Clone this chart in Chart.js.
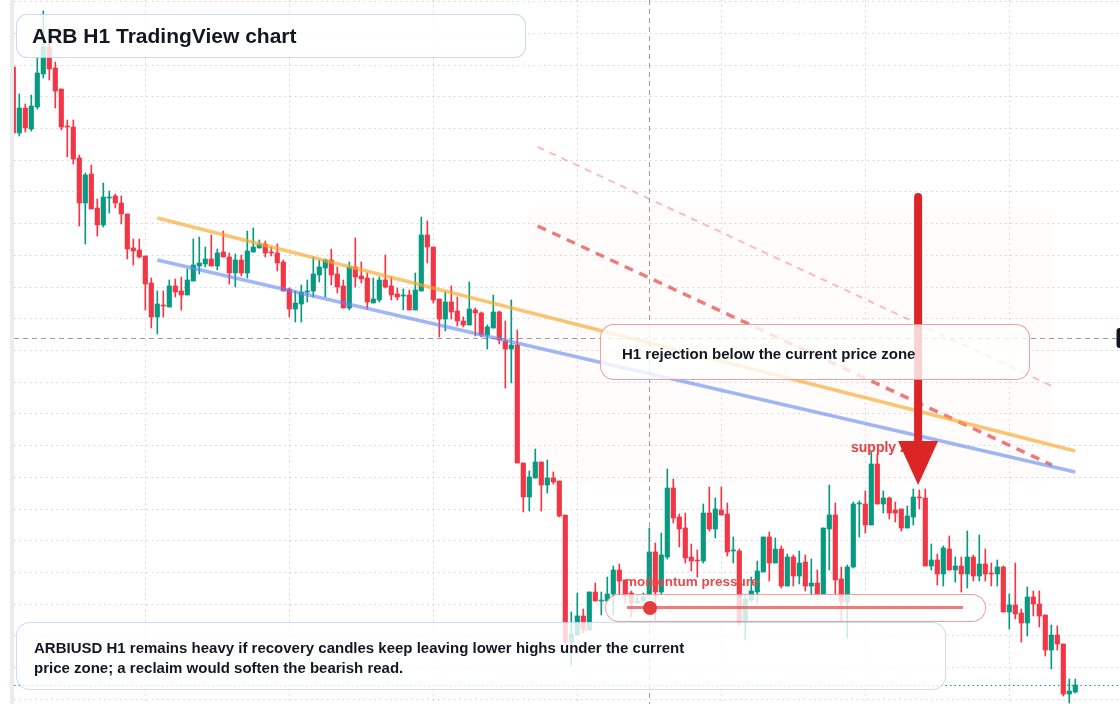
<!DOCTYPE html>
<html>
<head>
<meta charset="utf-8">
<script src="https://cdn.jsdelivr.net/npm/chart.js@4.4.1/dist/chart.umd.min.js"></script>
<style>
html,body{margin:0;padding:0;background:#ffffff;}
#wrap{position:relative;width:1120px;height:704px;overflow:hidden;font-family:"Liberation Sans",Arial,Helvetica,sans-serif;color:#131722;}
#c{position:absolute;left:0;top:0;z-index:1;}
.strip{position:absolute;left:10px;top:0;width:4px;height:704px;background:#ececee;z-index:0;}
.under{position:absolute;z-index:0;white-space:nowrap;font-weight:bold;}
.box{position:absolute;box-sizing:border-box;background:rgba(255,255,255,0.8);z-index:2;white-space:nowrap;font-weight:bold;}
.lbl{position:absolute;z-index:3;white-space:nowrap;font-weight:bold;}
</style>
</head>
<body>
<div id="wrap">
  <div class="strip"></div>
  <div class="under" style="left:851px;top:439px;font-size:14px;line-height:16px;color:#e23b40;">supply zone</div>
  <canvas id="c" width="1120" height="704"></canvas>
  <div class="box" style="left:16px;top:14px;width:510px;height:44px;border:1.5px solid rgba(170,198,240,0.65);border-radius:11px;padding-left:15px;font-size:21px;line-height:42px;">ARB H1 TradingView chart</div>
  <div class="box" style="left:600px;top:324px;width:430px;height:56px;border:1.5px solid rgba(232,84,84,0.55);border-radius:14px;padding-left:21px;font-size:15px;line-height:57px;">H1 rejection below the current price zone</div>
  <div class="box" style="left:605px;top:594px;width:381px;height:28px;border:1.5px solid rgba(232,84,84,0.55);border-radius:14px;">
    <div style="position:absolute;left:21px;top:11px;width:336px;height:3px;background:rgba(232,80,80,0.75);"></div>
    <div style="position:absolute;left:37px;top:5.5px;width:14px;height:14px;border-radius:7px;background:#e43c3c;"></div>
  </div>
  <div class="lbl" style="left:625px;top:574px;font-size:13.5px;line-height:16px;color:#e44a4f;">momentum pressure</div>
  <div class="box" style="left:16px;top:622px;width:930px;height:68px;border:1.5px solid rgba(170,198,240,0.6);border-radius:14px;padding:14.5px 0 0 17px;font-size:15px;line-height:20px;">ARBIUSD H1 remains heavy if recovery candles keep leaving lower highs under the current<br>price zone; a reclaim would soften the bearish read.</div>
</div>
<script>
// ---- candle data (ARBIUSD, H1) ----
const opens = [
0.733,0.667,0.692,0.671,0.693,0.726,0.753,0.732,0.711,0.674,0.673,0.642,0.597,0.626,0.592,0.575,0.602,0.604,0.597,0.586,
0.552,0.550,0.544,0.517,0.483,0.495,0.493,0.514,0.509,0.505,0.519,0.534,0.536,0.541,0.534,0.548,0.543,0.527,0.540,0.527,
0.548,0.552,0.556,0.548,0.547,0.538,0.511,0.491,0.496,0.508,0.509,0.525,0.532,0.540,0.526,0.514,0.492,0.533,0.524,0.522,
0.497,0.500,0.520,0.514,0.506,0.504,0.505,0.490,0.509,0.565,0.553,0.501,0.481,0.498,0.489,0.479,0.475,0.490,0.487,0.465,
0.472,0.488,0.459,0.451,0.455,0.337,0.303,0.322,0.338,0.315,0.322,0.319,0.285,0.158,0.165,0.184,0.170,0.208,0.199,0.199,
0.206,0.230,0.220,0.207,0.197,0.199,0.205,0.248,0.208,0.243,0.312,0.283,0.272,0.243,0.240,0.239,0.287,0.271,0.290,0.286,
0.249,0.249,0.178,0.200,0.208,0.228,0.263,0.237,0.251,0.214,0.243,0.224,0.238,0.214,0.217,0.206,0.271,0.285,0.221,0.198,
0.233,0.296,0.296,0.275,0.336,0.296,0.302,0.290,0.291,0.272,0.283,0.303,0.302,0.234,0.240,0.226,0.251,0.230,0.234,0.226,
0.243,0.224,0.236,0.227,0.226,0.233,0.188,0.195,0.187,0.177,0.203,0.196,0.185,0.150,0.165,0.156,0.106,0.108];
const highs = [
0.736,0.706,0.696,0.705,0.742,0.789,0.757,0.738,0.711,0.680,0.680,0.645,0.627,0.635,0.601,0.617,0.609,0.606,0.604,0.586,
0.561,0.561,0.544,0.522,0.509,0.509,0.520,0.521,0.523,0.531,0.561,0.563,0.553,0.565,0.551,0.569,0.547,0.546,0.545,0.569,
0.572,0.560,0.559,0.553,0.556,0.540,0.512,0.509,0.515,0.520,0.543,0.540,0.541,0.551,0.533,0.520,0.538,0.562,0.538,0.527,
0.522,0.523,0.545,0.523,0.512,0.511,0.510,0.527,0.583,0.579,0.553,0.501,0.508,0.514,0.503,0.483,0.518,0.492,0.488,0.475,
0.505,0.489,0.479,0.500,0.470,0.337,0.329,0.351,0.338,0.340,0.328,0.319,0.285,0.188,0.207,0.191,0.208,0.217,0.208,0.223,
0.234,0.236,0.220,0.209,0.205,0.207,0.272,0.257,0.267,0.331,0.321,0.286,0.287,0.256,0.250,0.296,0.313,0.302,0.313,0.297,
0.263,0.251,0.205,0.223,0.239,0.263,0.268,0.262,0.254,0.246,0.245,0.249,0.245,0.241,0.230,0.272,0.315,0.297,0.233,0.235,
0.298,0.299,0.309,0.348,0.345,0.309,0.303,0.298,0.291,0.294,0.311,0.310,0.311,0.256,0.246,0.254,0.264,0.243,0.243,0.269,
0.245,0.265,0.251,0.237,0.240,0.234,0.206,0.237,0.191,0.213,0.209,0.209,0.185,0.175,0.174,0.156,0.121,0.121];
const lows = [
0.664,0.664,0.668,0.669,0.691,0.722,0.720,0.692,0.670,0.643,0.636,0.574,0.556,0.591,0.564,0.573,0.587,0.592,0.576,0.541,
0.535,0.542,0.490,0.472,0.466,0.483,0.493,0.503,0.490,0.505,0.519,0.526,0.533,0.534,0.530,0.543,0.516,0.513,0.524,0.522,
0.548,0.552,0.543,0.544,0.529,0.509,0.483,0.478,0.478,0.498,0.503,0.518,0.503,0.515,0.507,0.492,0.490,0.513,0.517,0.491,
0.497,0.498,0.512,0.500,0.500,0.490,0.490,0.490,0.509,0.537,0.497,0.463,0.469,0.481,0.474,0.473,0.475,0.464,0.463,0.451,
0.472,0.456,0.412,0.417,0.337,0.288,0.289,0.322,0.289,0.307,0.316,0.283,0.156,0.135,0.165,0.167,0.170,0.199,0.185,0.199,
0.185,0.205,0.197,0.183,0.197,0.199,0.203,0.180,0.205,0.241,0.277,0.253,0.237,0.229,0.223,0.237,0.269,0.262,0.285,0.244,
0.237,0.175,0.160,0.198,0.197,0.228,0.219,0.237,0.212,0.214,0.214,0.216,0.209,0.204,0.206,0.206,0.230,0.206,0.178,0.162,
0.232,0.263,0.267,0.275,0.296,0.287,0.281,0.278,0.269,0.272,0.275,0.291,0.234,0.230,0.215,0.214,0.230,0.218,0.208,0.212,
0.219,0.219,0.219,0.214,0.214,0.188,0.171,0.181,0.158,0.164,0.184,0.173,0.144,0.131,0.150,0.104,0.097,0.107];
const closes = [
0.667,0.692,0.672,0.694,0.727,0.753,0.731,0.709,0.673,0.673,0.641,0.597,0.625,0.591,0.575,0.603,0.603,0.597,0.586,0.551,
0.549,0.543,0.516,0.483,0.496,0.494,0.514,0.508,0.505,0.520,0.535,0.537,0.541,0.534,0.547,0.543,0.527,0.540,0.527,0.549,
0.553,0.556,0.547,0.547,0.537,0.509,0.491,0.497,0.508,0.509,0.526,0.533,0.540,0.525,0.513,0.492,0.533,0.523,0.521,0.498,
0.501,0.520,0.513,0.505,0.503,0.505,0.490,0.510,0.565,0.553,0.500,0.481,0.498,0.488,0.479,0.475,0.491,0.487,0.465,0.473,
0.488,0.460,0.451,0.455,0.337,0.303,0.323,0.338,0.315,0.322,0.318,0.284,0.158,0.166,0.184,0.170,0.208,0.199,0.200,0.206,
0.230,0.219,0.205,0.197,0.199,0.203,0.248,0.208,0.245,0.312,0.282,0.271,0.242,0.239,0.239,0.287,0.271,0.291,0.285,0.248,
0.250,0.177,0.201,0.209,0.229,0.263,0.237,0.251,0.214,0.243,0.224,0.237,0.214,0.217,0.206,0.272,0.285,0.220,0.198,0.233,
0.296,0.297,0.275,0.336,0.296,0.302,0.287,0.287,0.272,0.284,0.303,0.302,0.234,0.240,0.226,0.252,0.230,0.234,0.226,0.243,
0.224,0.236,0.226,0.226,0.233,0.188,0.195,0.186,0.177,0.203,0.196,0.184,0.150,0.165,0.156,0.106,0.109,0.115];

// ---- drawing annotations (in data units: candle index, price) ----
const trendUpper = [{x:24, y:0.582}, {x:177, y:0.349}];
const trendLower = [{x:24, y:0.540}, {x:177, y:0.328}];
const channelUpper = [{x:87.4, y:0.653}, {x:173.1, y:0.414}];
const channelLower = [{x:87.4, y:0.574}, {x:173.1, y:0.335}];
const supplyZone = {x0:85.6, x1:173.1, top:0.593, bottom:0.317};
const arrowDown = {x:150.8, from:0.603, headBase:0.359, to:0.315};
const crosshair = {x:106, price:0.462};
const xGridTicks = [22, 46, 70, 94, 118, 142, 166];
const yGridTop = 0.79843, yGridStep = 0.031715;

const UP = '#089981', DOWN = '#f23645';
const candleColors = opens.map((o, i) => closes[i] >= o ? UP : DOWN);

const overlay = {
  id: 'overlay',
  beforeDatasetsDraw(chart) {
    const {ctx, scales: {x, y}} = chart;
    const x0 = x.getPixelForValue(supplyZone.x0), x1 = x.getPixelForValue(supplyZone.x1);
    const y0 = y.getPixelForValue(supplyZone.top), y1 = y.getPixelForValue(supplyZone.bottom);
    ctx.save();
    ctx.fillStyle = 'rgba(250,205,175,0.05)';
    ctx.beginPath(); ctx.roundRect(x0, y0, x1 - x0, y1 - y0, 14); ctx.fill();
    ctx.restore();
  },
  afterDatasetsDraw(chart) {
    const {ctx, chartArea: a, scales: {x, y}} = chart;
    ctx.save();
    // last price line
    const lp = Math.round(y.getPixelForValue(closes[closes.length - 1])) + 0.5;
    ctx.strokeStyle = UP; ctx.lineWidth = 1; ctx.setLineDash([1.5, 3]);
    ctx.beginPath(); ctx.moveTo(a.left, lp); ctx.lineTo(a.right, lp); ctx.stroke();
    // crosshair
    const cx = Math.round(x.getPixelForValue(crosshair.x)) + 0.5;
    const cy = Math.round(y.getPixelForValue(crosshair.price)) + 0.5;
    ctx.strokeStyle = 'rgba(120,123,134,0.75)'; ctx.setLineDash([5, 4]);
    ctx.beginPath(); ctx.moveTo(cx, a.top); ctx.lineTo(cx, a.bottom); ctx.stroke();
    ctx.beginPath(); ctx.moveTo(a.left, cy); ctx.lineTo(a.right - 4, cy); ctx.stroke();
    ctx.setLineDash([]);
    ctx.fillStyle = '#131722';
    ctx.beginPath(); ctx.roundRect(a.right - 3.5, cy - 10.5, 40, 20, 3); ctx.fill();
    // arrow
    const ax = x.getPixelForValue(arrowDown.x);
    const yT = y.getPixelForValue(arrowDown.from), yB = y.getPixelForValue(arrowDown.headBase), yTip = y.getPixelForValue(arrowDown.to);
    ctx.strokeStyle = '#dc2626'; ctx.fillStyle = '#dc2626'; ctx.lineWidth = 8; ctx.lineCap = 'round';
    ctx.beginPath(); ctx.moveTo(ax, yT); ctx.lineTo(ax, yB + 2); ctx.stroke();
    ctx.beginPath(); ctx.moveTo(ax - 20, yB); ctx.lineTo(ax + 20, yB); ctx.lineTo(ax, yTip); ctx.closePath(); ctx.fill();
    ctx.restore();
  }
};

const lineDs = (data, color, width, dash) => ({
  type: 'line', data, borderColor: color, borderWidth: width, borderDash: dash || [],
  pointRadius: 0, fill: false, tension: 0, order: 0, borderCapStyle: 'butt'
});

new Chart(document.getElementById('c'), {
  type: 'bar',
  data: {
    datasets: [
      lineDs(trendUpper, 'rgba(247,166,42,0.65)', 3.5),
      lineDs(trendLower, 'rgba(96,135,240,0.6)', 3.5),
      lineDs(channelUpper, 'rgba(240,110,110,0.45)', 2, [7, 6]),
      lineDs(channelLower, 'rgba(232,80,80,0.75)', 3.5, [9, 7]),
      {
        label: 'body', order: 1, grouped: false, barThickness: 4.5, minBarLength: 1,
        data: opens.map((o, i) => ({x: i, y: [o, closes[i]]})),
        backgroundColor: candleColors, borderWidth: 0
      },
      {
        label: 'wick', order: 2, grouped: false, barThickness: 1,
        data: lows.map((l, i) => ({x: i, y: [l, highs[i]]})),
        backgroundColor: candleColors, borderWidth: 0
      }
    ]
  },
  options: {
    responsive: false, animation: false, events: [],
    layout: {padding: {left: 14, right: 0, top: 0, bottom: 0}},
    plugins: {legend: {display: false}, tooltip: {enabled: false}},
    scales: {
      x: {
        type: 'linear', min: 0.117, max: 184.45, offset: false,
        ticks: {display: false},
        grid: {color: 'rgba(150,156,168,0.45)', drawTicks: false, offset: false},
        border: {display: false, dash: [1.5, 3.8]},
        afterBuildTicks: s => { s.ticks = xGridTicks.map(v => ({value: v})); }
      },
      y: {
        type: 'linear', min: 0.096, max: 0.8,
        ticks: {display: false},
        grid: {color: 'rgba(150,156,168,0.45)', drawTicks: false},
        border: {display: false, dash: [1.5, 3.8]},
        afterBuildTicks: s => {
          const t = [];
          for (let v = yGridTop; v > 0.096; v -= yGridStep) t.push({value: v});
          s.ticks = t;
        }
      }
    }
  },
  plugins: [overlay]
});
</script>
</body>
</html>
